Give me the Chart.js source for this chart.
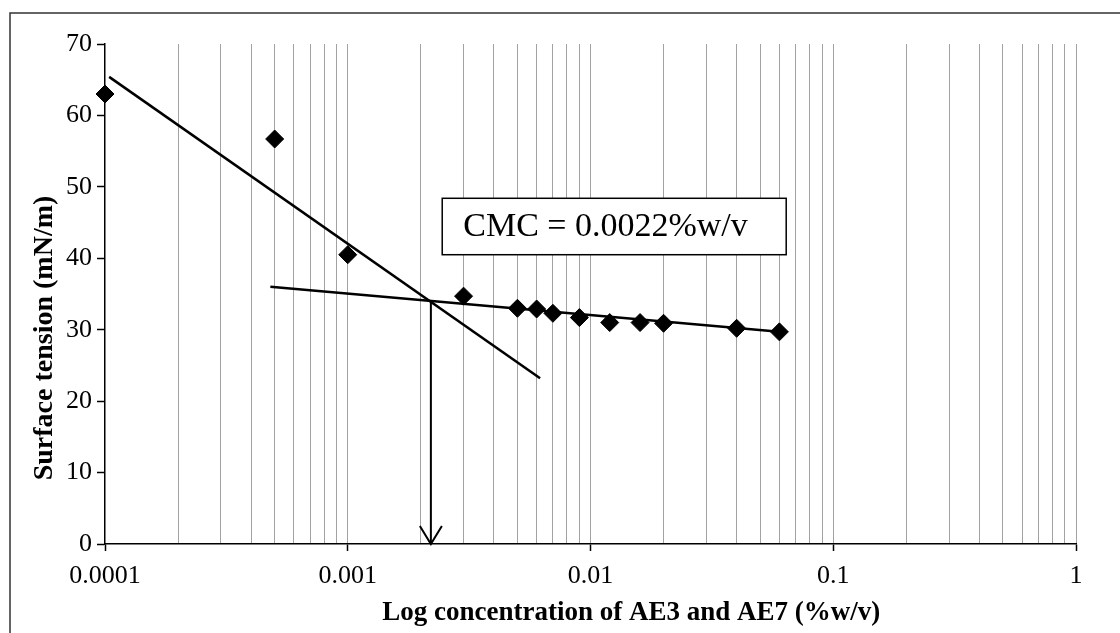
<!DOCTYPE html>
<html>
<head>
<meta charset="utf-8">
<script src="https://cdn.jsdelivr.net/npm/chart.js@4/dist/chart.umd.min.js"></script>
<style>
  html, body { margin: 0; padding: 0; background: #ffffff; }
  #wrap { width: 1120px; height: 633px; position: relative; }
</style>
</head>
<body>
<div id="wrap"><canvas id="c" width="1120" height="633"></canvas></div>
<script>
// ---- data ----
const concentration = [0.0001, 0.0005, 0.001, 0.003, 0.005, 0.006, 0.007, 0.009, 0.012, 0.016, 0.02, 0.04, 0.06];
const surfaceTension = [63.0, 56.7, 40.5, 34.7, 33.0, 32.9, 32.3, 31.7, 31.0, 31.0, 30.9, 30.2, 29.7];

const trend1X = [0.000104, 0.0062];
const trend1Y = [65.4, 23.2];
const trend2X = [0.00048, 0.06];
const trend2Y = [36.0, 29.7];

const cmcX = [0.0022, 0.0022];
const cmcY = [34.0, 0];
const cmcLabel = 'CMC = 0.0022%w/v';
const labelBoxX = [0.00245, 0.064];
const labelBoxY = [48.4, 40.5];

const decades = [0.0001, 0.001, 0.01, 0.1];
const multipliers = [1, 2, 3, 4, 5, 6, 7, 8, 9];
const xTickLabels = ['0.0001', '0.001', '0.01', '0.1', '1'];
const yTicks = [0, 10, 20, 30, 40, 50, 60, 70];

const xTitle = 'Log concentration of AE3 and AE7 (%w/v)';
const yTitle = 'Surface tension (mN/m)';

// ---- helpers ----
const gridValues = [];
decades.forEach(d => multipliers.forEach(m => gridValues.push(Number((d * m).toPrecision(10)))));
gridValues.push(1);
const majorValues = xTickLabels.map(Number);
const isMajor = v => majorValues.some(mv => Math.abs(mv - v) / mv < 1e-6);
const labelFor = v => { const i = majorValues.findIndex(mv => Math.abs(mv - v) / mv < 1e-6); return i >= 0 ? xTickLabels[i] : ''; };

const SERIF = '"Liberation Serif", "Times New Roman", Times, serif';

const framePlugin = {
  id: 'frame',
  beforeDraw(chart) {
    const ctx = chart.ctx;
    ctx.save();
    ctx.fillStyle = '#ffffff';
    ctx.fillRect(0, 0, chart.width, chart.height);
    ctx.strokeStyle = '#333';
    ctx.lineWidth = 1.5;
    ctx.beginPath();
    ctx.moveTo(10, chart.height);
    ctx.lineTo(10, 13);
    ctx.lineTo(chart.width, 13);
    ctx.stroke();
    ctx.restore();
  },
  afterDraw(chart) {
    const ctx = chart.ctx;
    const a = chart.chartArea;
    ctx.save();
    ctx.fillStyle = '#000';
    ctx.textAlign = 'center';
    ctx.textBaseline = 'middle';
    ctx.font = 'bold 27px ' + SERIF;
    ctx.fillText(xTitle, a.left + 0.542 * (a.right - a.left), a.bottom + 69);
    ctx.translate(a.left - 60, a.top + 0.588 * (a.bottom - a.top));
    ctx.rotate(-Math.PI / 2);
    ctx.font = 'bold 28px ' + SERIF;
    ctx.fillText(yTitle, 0, 0);
    ctx.restore();
  }
};

const annotPlugin = {
  id: 'annot',
  afterDatasetsDraw(chart) {
    const ctx = chart.ctx;
    const xs = chart.scales.x, ys = chart.scales.y;
    // arrow head
    const ax = xs.getPixelForValue(cmcX[1]);
    const ay = ys.getPixelForValue(cmcY[1]);
    ctx.save();
    ctx.strokeStyle = '#000';
    ctx.lineWidth = 2;
    ctx.beginPath();
    ctx.moveTo(ax - 11, ay - 18);
    ctx.lineTo(ax, ay);
    ctx.lineTo(ax + 11, ay - 18);
    ctx.stroke();
    // label box
    const l = xs.getPixelForValue(labelBoxX[0]);
    const r = xs.getPixelForValue(labelBoxX[1]);
    const t = ys.getPixelForValue(labelBoxY[0]);
    const b = ys.getPixelForValue(labelBoxY[1]);
    ctx.fillStyle = '#fff';
    ctx.fillRect(l, t, r - l, b - t);
    ctx.lineWidth = 1.5;
    ctx.strokeStyle = '#000';
    ctx.strokeRect(l, t, r - l, b - t);
    ctx.fillStyle = '#000';
    ctx.font = '34px ' + SERIF;
    ctx.textAlign = 'left';
    ctx.textBaseline = 'middle';
    ctx.fillText(cmcLabel, l + 21, (t + b) / 2 + 1);
    ctx.restore();
  }
};

const toPts = (xa, ya) => xa.map((x, i) => ({ x: x, y: ya[i] }));

new Chart(document.getElementById('c'), {
  type: 'scatter',
  data: {
    datasets: [
      {
        data: toPts(trend1X, trend1Y), showLine: true, borderColor: '#000', borderWidth: 2.5,
        pointRadius: 0, fill: false
      },
      {
        data: toPts(trend2X, trend2Y), showLine: true, borderColor: '#000', borderWidth: 2.5,
        pointRadius: 0, fill: false
      },
      {
        data: toPts(cmcX, cmcY), showLine: true, borderColor: '#000', borderWidth: 2,
        pointRadius: 0, fill: false
      },
      {
        data: toPts(concentration, surfaceTension), showLine: false, clip: false,
        pointStyle: 'rectRot', pointRadius: 9, pointHoverRadius: 9,
        backgroundColor: '#000', borderColor: '#000', borderWidth: 1
      }
    ]
  },
  options: {
    responsive: false,
    animation: false,
    events: [],
    layout: { padding: { left: 10, right: 44, top: 44, bottom: 0 } },
    plugins: { legend: { display: false }, tooltip: { enabled: false } },
    scales: {
      x: {
        type: 'logarithmic',
        min: 0.0001,
        max: 1,
        afterBuildTicks(scale) { scale.ticks = gridValues.map(v => ({ value: v, major: isMajor(v) })); },
        afterFit(scale) { scale.height = 89; },
        ticks: {
          autoSkip: false, maxRotation: 0, minRotation: 0,
          color: '#000', padding: 10,
          font: { family: SERIF, size: 26 },
          callback: (v) => labelFor(v)
        },
        grid: {
          drawOnChartArea: true,
          color: (c) => (c.tick && Math.abs(c.tick.value - 0.0001) < 1e-9) ? 'rgba(0,0,0,0)' : 'rgba(100,100,100,0.6)',
          lineWidth: 1,
          tickLength: 7,
          tickColor: (c) => (c.tick && isMajor(c.tick.value)) ? '#000' : 'rgba(0,0,0,0)',
          tickWidth: 1.5
        },
        border: { display: true, color: '#000', width: 1.5 },
        title: { display: false }
      },
      y: {
        min: 0, max: 70,
        afterBuildTicks(scale) { scale.ticks = yTicks.map(v => ({ value: v })); },
        afterFit(scale) { scale.width = 95; },
        ticks: { color: '#000', padding: 5, font: { family: SERIF, size: 26 } },
        grid: { drawOnChartArea: false, tickLength: 8, tickColor: '#000', tickWidth: 1.5 },
        border: { display: true, color: '#000', width: 1.5 },
        title: { display: false }
      }
    }
  },
  plugins: [framePlugin, annotPlugin]
});
</script>
</body>
</html>
